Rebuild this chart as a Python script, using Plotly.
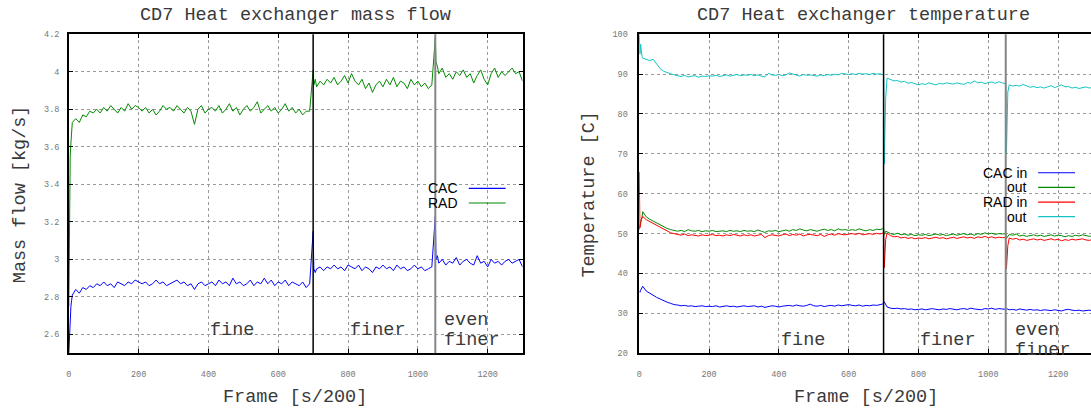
import plotly.graph_objects as go

# ---------------- data ----------------
frames_a = [0, 2, 4, 6, 8] + list(range(10, 700, 10))
frames_b = [700, 702, 706] + list(range(710, 1050, 10))
frames_c = [1050, 1052, 1056] + list(range(1060, 1301, 10))
frames = frames_a + frames_b + frames_c

section_marks = [700, 1050]
section_labels = [["fine"], ["finer"], ["even", "finer"]]
section_label_x = [400, 800, 1070]

mass_cac = [
    2.50, 2.62, 2.70, 2.75, 2.78,
    2.81, 2.84, 2.82, 2.85, 2.84, 2.86, 2.85, 2.87, 2.86, 2.88,
    2.86, 2.87, 2.85, 2.88, 2.87, 2.86, 2.88, 2.87, 2.89, 2.88,
    2.87, 2.88, 2.86, 2.87, 2.89, 2.87, 2.88, 2.86, 2.87, 2.88,
    2.89, 2.87, 2.88, 2.86, 2.87, 2.84, 2.87, 2.88, 2.86, 2.87,
    2.88, 2.86, 2.89, 2.87, 2.88, 2.86, 2.90, 2.87, 2.88, 2.86,
    2.87, 2.89, 2.86, 2.88, 2.87, 2.90, 2.87, 2.89, 2.86, 2.88,
    2.87, 2.89, 2.86, 2.88, 2.87, 2.86, 2.88, 2.85, 2.87,
    3.15, 2.95, 2.93,
    2.95, 2.96, 2.94, 2.96, 2.95, 2.97, 2.95, 2.96, 2.94, 2.97,
    2.96, 2.95, 2.97, 2.94, 2.96, 2.95, 2.93, 2.96, 2.95, 2.97,
    2.95, 2.96, 2.94, 2.97, 2.95, 2.96, 2.94, 2.95, 2.97, 2.95,
    2.96, 2.94, 2.95, 2.96,
    3.23, 3.00, 3.02,
    2.98, 3.00, 2.97, 2.99, 2.98, 3.01, 2.97, 2.99, 3.00, 2.98,
    2.97, 3.02, 2.98, 2.99, 2.96, 3.00, 2.98, 2.99, 2.97, 2.99,
    3.00, 2.98, 2.99, 3.00, 2.96,
]

mass_rad = [
    2.75, 3.35, 3.55, 3.62, 3.66,
    3.73, 3.75, 3.73, 3.77, 3.76, 3.79, 3.78, 3.80, 3.78, 3.81,
    3.79, 3.82, 3.80, 3.78, 3.81, 3.79, 3.83, 3.80, 3.82, 3.81,
    3.79, 3.81, 3.78, 3.80, 3.77, 3.79, 3.82, 3.80, 3.81, 3.79,
    3.82, 3.80, 3.78, 3.81, 3.79, 3.72, 3.80, 3.82, 3.78, 3.80,
    3.81, 3.79, 3.82, 3.78, 3.80, 3.83, 3.79, 3.81, 3.77, 3.80,
    3.82, 3.79, 3.81, 3.84, 3.78, 3.80, 3.82, 3.79, 3.81, 3.78,
    3.80, 3.83, 3.79, 3.81, 3.78, 3.80, 3.77, 3.79, 3.79,
    4.01, 3.93, 3.96,
    3.92, 3.95, 3.93, 3.96, 3.94, 3.97, 3.93, 3.95, 3.98, 3.94,
    3.99, 3.95, 3.93, 3.96, 3.91, 3.94, 3.89, 3.93, 3.95, 3.92,
    3.96, 3.93, 3.97, 3.92, 3.95, 3.94, 3.91, 3.96, 3.93, 3.95,
    3.92, 3.94, 3.91, 3.93,
    4.18, 4.05, 4.03,
    3.99, 4.02, 3.97, 3.99, 3.96, 4.00, 3.98, 4.01, 3.97, 3.99,
    3.94, 3.98, 4.01, 3.96, 3.93, 3.99, 4.02, 3.97, 4.00, 3.98,
    4.00, 4.02, 3.99, 4.00, 3.95,
]

temp_cac_in = [
    35.5, 35.3, 35.8, 36.2, 36.5,
    36.8, 35.6, 35.0, 34.6, 34.0, 33.6, 33.1, 32.8, 32.5, 32.2,
    32.1, 31.9, 32.0, 31.8, 31.9, 31.7, 31.8, 31.9, 31.7, 31.8,
    31.7, 31.9, 31.6, 31.8, 31.9, 31.7, 31.8, 31.6, 31.8, 31.9,
    31.7, 31.8, 31.9, 31.6, 31.8, 31.5, 31.7, 31.9, 31.8, 31.6,
    31.8, 31.9, 32.0, 31.8, 32.1, 31.9, 31.8, 32.0, 32.3, 31.9,
    31.8, 32.0, 31.7, 31.9, 32.0, 31.8, 32.1, 31.9, 32.0, 32.2,
    32.0, 31.9, 32.1, 31.8, 32.0, 31.9, 32.1, 32.0, 32.2,
    32.4, 32.9, 32.3,
    31.6, 31.3, 31.2, 31.3, 31.1, 31.2, 31.0, 31.1, 30.9, 31.0,
    31.1, 30.9, 31.0, 31.2, 31.0, 30.9, 31.1, 31.0, 31.2, 31.1,
    30.9, 31.1, 31.2, 31.0, 31.3, 31.1, 31.0, 30.9, 31.2, 31.1,
    31.3, 31.0, 31.2, 31.1,
    31.0, 31.2, 31.1,
    30.9, 31.0, 30.8, 31.1, 30.9, 30.8, 31.0, 30.8, 30.9, 30.7,
    30.9, 30.8, 30.7, 30.9, 30.8, 30.6, 30.9, 31.0, 30.8, 30.7,
    30.8, 30.6, 30.7, 30.8, 30.6,
]

temp_cac_out = [
    51.0, 52.5, 53.0, 53.6, 54.2,
    55.5, 54.2, 53.6, 53.1, 52.6, 52.1, 51.6, 51.3, 51.0, 50.8,
    50.6, 50.8, 50.5, 51.0, 50.7, 50.6, 50.8, 50.5, 50.7, 50.6,
    50.8, 50.5, 50.6, 50.7, 50.5, 50.8, 50.6, 50.7, 50.5, 50.8,
    50.6, 50.7, 50.5, 50.9, 50.6, 50.3, 50.7, 50.6, 50.8, 50.5,
    50.7, 50.9, 50.6, 51.0, 50.8, 51.2, 50.9, 50.7, 51.0, 50.8,
    50.6, 50.9, 51.1, 50.8, 51.0, 50.7, 51.2, 50.9, 51.0, 50.8,
    51.0, 50.8, 51.2, 50.9, 50.7, 51.0, 50.8, 51.1, 51.0,
    51.3, 49.8, 50.6,
    50.4, 50.0, 49.8, 50.1, 49.7, 49.9, 49.6, 49.8, 49.5, 49.7,
    49.6, 49.8, 49.5, 49.7, 49.9, 49.6, 49.8, 49.5, 49.7, 49.9,
    49.6, 49.8, 50.0, 49.7, 49.9, 49.6, 50.0, 49.8, 50.2, 49.9,
    50.1, 49.8, 50.0, 49.9,
    50.0, 48.8, 49.5,
    49.8, 49.6, 49.9, 49.4, 49.6, 49.3, 49.5, 49.7, 49.4, 49.6,
    49.3, 49.5, 49.7, 49.4, 49.6, 49.5, 49.2, 49.5, 49.3, 49.6,
    49.4, 49.7, 49.5, 49.3, 49.6,
]

temp_rad_in = [
    65.5, 51.5, 52.5, 53.5, 54.0,
    54.3, 53.5, 53.0, 52.5, 52.0, 51.5, 51.0, 50.6, 50.2, 50.0,
    49.8, 49.6, 49.9, 49.5, 49.7, 49.6, 49.4, 49.7, 49.5, 49.6,
    49.8, 49.5, 49.6, 49.4, 49.7, 49.5, 49.8, 49.6, 49.4, 49.7,
    49.5, 49.7, 49.4, 49.6, 49.8, 49.0, 49.5, 49.7, 49.6, 49.4,
    49.7, 49.9, 49.5, 49.8, 49.6, 49.9, 49.4, 49.7, 49.8, 49.6,
    49.5, 49.8, 49.3, 49.7, 49.9, 49.6, 50.0, 49.8, 49.7, 49.9,
    50.0, 49.8, 50.1, 49.7, 49.9, 50.0, 49.8, 50.1, 49.9,
    50.2, 41.5, 48.5,
    50.1, 49.5, 49.2, 49.3, 48.9, 49.1, 48.8, 49.0, 48.7, 48.9,
    48.8, 49.0, 48.7, 48.9, 49.1, 48.8, 49.0, 48.7, 48.9, 49.1,
    48.8, 49.0, 49.2, 48.9, 49.1, 48.8, 49.2, 49.0, 49.3, 49.0,
    49.2, 48.9, 49.1, 49.0,
    49.0, 41.2, 47.0,
    48.9, 48.6, 48.8, 48.4, 48.6, 48.3, 48.5, 48.7, 48.4, 48.6,
    48.3, 48.5, 48.7, 48.4, 48.6, 48.2, 48.5, 48.3, 48.6, 48.4,
    48.5, 48.7, 48.4, 48.3, 48.6,
]

temp_rad_out = [
    100.0, 95.0, 97.5, 94.8, 94.4,
    94.0, 93.7, 93.4, 93.7, 92.6, 91.4, 90.7, 90.3, 90.1, 89.8,
    89.6, 89.4, 89.7, 89.3, 89.5, 89.6, 89.2, 89.5, 89.4, 89.6,
    89.5, 89.7, 89.4, 89.6, 89.8, 89.5, 89.7, 89.9, 89.6, 89.8,
    89.7, 89.9, 89.6, 89.8, 89.5, 89.3, 90.2, 89.8, 89.7, 89.9,
    89.6, 89.8, 90.3, 90.0, 89.8, 89.5, 89.9, 89.7, 89.8, 89.6,
    89.5, 89.8, 89.6, 89.9, 89.7, 90.0, 89.8, 90.2, 90.0, 89.9,
    90.1, 89.9, 90.2, 90.0, 90.1, 89.9, 90.2, 90.0, 90.1,
    89.8, 67.5, 84.0,
    89.0, 88.6, 88.3, 88.4, 88.0, 88.2, 87.7, 87.9, 87.5, 87.3,
    87.6, 87.4, 87.8, 87.5, 87.3, 87.7, 87.5, 87.8, 87.6, 87.5,
    87.8, 87.6, 87.4, 87.9, 87.7, 88.3, 87.8, 88.0, 87.6, 87.9,
    88.0, 87.7, 88.1, 87.8,
    87.6, 70.0, 85.5,
    87.3, 87.0, 87.2, 87.0, 87.4, 87.1, 86.7, 86.9, 86.6, 86.8,
    86.5, 86.8, 87.1, 86.6, 86.9, 87.3, 86.8, 86.9, 86.5, 86.7,
    86.4, 86.6, 86.8, 86.5, 86.7,
]

# ---------------- styling ----------------
W, H = 1091, 409
MONO = "Liberation Mono, Courier New, monospace"
SANS = "Liberation Sans, Arial, sans-serif"
BLUE, GREEN, RED, CYAN = "#0000ff", "#008a00", "#ff0000", "#14c4c4"
TXT = "#3a3a3a"


def px(x):
    return x / W


def py(y):
    return 1 - y / H


fig = go.Figure()


def add(xs, ys, color, xa, ya):
    n = min(len(xs), len(ys))
    fig.add_trace(go.Scatter(x=xs[:n], y=ys[:n], mode="lines",
                             line=dict(color=color, width=1),
                             xaxis=xa, yaxis=ya, hoverinfo="skip"))


add(frames, mass_cac, BLUE, "x", "y")
add(frames, mass_rad, GREEN, "x", "y")
add(frames, temp_cac_in, BLUE, "x2", "y2")
add(frames, temp_cac_out, GREEN, "x2", "y2")
add(frames, temp_rad_in, RED, "x2", "y2")
add(frames, temp_rad_out, CYAN, "x2", "y2")

ydom = [(H - 358) / H, (H - 31) / H]
tickfont = dict(family=MONO, size=8.5, color="#777777")
common = dict(showgrid=True, griddash="dot", gridcolor="#9a9a9a", gridwidth=1,
              showline=True, linecolor="black", linewidth=1.5,
              ticks="inside", ticklen=4, tickcolor="black", tickwidth=1,
              tickfont=tickfont, zeroline=False)

xt = [0, 200, 400, 600, 800, 1000, 1200]
fig.update_layout(
    width=W, height=H, margin=dict(l=0, r=0, t=0, b=0),
    plot_bgcolor="white", paper_bgcolor="white", showlegend=False,
    xaxis=dict(domain=[px(66), px(521)], range=[0, 1300], anchor="y",
               tickvals=xt, mirror="ticks", ticklabelstandoff=12, **common),
    yaxis=dict(domain=ydom, range=[2.5, 4.2], anchor="x",
               tickvals=[2.6, 2.8, 3.0, 3.2, 3.4, 3.6, 3.8, 4.0, 4.2],
               ticktext=["2.6", "2.8", "3", "3.2", "3.4", "3.6", "3.8", "4", "4.2"],
               mirror="ticks", ticklabelstandoff=6, **common),
    xaxis2=dict(domain=[px(638), 1.0], range=[0, 1300 * 453 / 455], anchor="y2",
                tickvals=xt, mirror="ticks", ticklabelstandoff=12, **common),
    yaxis2=dict(domain=ydom, range=[20, 100], anchor="x2",
                tickvals=[20, 30, 40, 50, 60, 70, 80, 90, 100],
                mirror=False, ticklabelstandoff=8, **common),
)

shapes = []
for xa, ya in (("x", "y"), ("x2", "y2")):
    shapes.append(dict(type="line", xref=xa, yref=ya + " domain", x0=section_marks[0],
                       x1=section_marks[0], y0=0, y1=1, line=dict(color="black", width=1.5)))
    shapes.append(dict(type="line", xref=xa, yref=ya + " domain", x0=section_marks[1],
                       x1=section_marks[1], y0=0, y1=1, line=dict(color="#858585", width=2)))

ann = []
# titles
ann.append(dict(text="CD7 Heat exchanger mass flow", x=px(293), y=py(12)))
ann.append(dict(text="CD7 Heat exchanger temperature", x=px(863), y=py(12)))
ann.append(dict(text="Frame [s/200]", x=px(293), y=py(403)))
ann.append(dict(text="Frame [s/200]", x=px(865), y=py(403)))
ann.append(dict(text="Mass flow [kg/s]", x=px(17), y=py(195), textangle=-90))
ann.append(dict(text="Temperature [C]", x=px(588), y=py(195), textangle=-90))
for a in ann:
    a.update(xref="paper", yref="paper", showarrow=False, xanchor="center", yanchor="middle",
             font=dict(family=MONO, size=18.5, color=TXT))

# section labels (multi-line labels stacked with 20 px line pitch)
for lx, lines in zip(section_label_x, section_labels):
    nl = len(lines)
    for i, lt in enumerate(lines):
        shift = ((nl - 1) / 2 - i) * 20
        for xa, ya, yv in (("x", "y", 2.62), ("x2", "y2", 23.3)):
            ann.append(dict(text=lt, x=lx, y=yv, xref=xa, yref=ya, showarrow=False,
                            xanchor="left", yanchor="middle", yshift=shift,
                            font=dict(family=MONO, size=18.5, color=TXT)))

# legends
legL = [("CAC", BLUE, 189), ("RAD", GREEN, 204)]
for name, col, yy in legL:
    ann.append(dict(text=name, x=px(458), y=py(yy), xref="paper", yref="paper",
                    showarrow=False, xanchor="right", yanchor="middle",
                    font=dict(family=SANS, size=14, color="black")))
    shapes.append(dict(type="line", xref="paper", yref="paper", x0=px(467), x1=px(504),
                       y0=py(yy), y1=py(yy), line=dict(color=col, width=1.2)))
legR = [("CAC in", BLUE, 173), ("out", GREEN, 188), ("RAD in", RED, 203), ("out", CYAN, 218)]
for name, col, yy in legR:
    ann.append(dict(text=name, x=px(1029), y=py(yy), xref="paper", yref="paper",
                    showarrow=False, xanchor="right", yanchor="middle",
                    font=dict(family=SANS, size=14, color="black")))
    shapes.append(dict(type="line", xref="paper", yref="paper", x0=px(1038), x1=px(1075),
                       y0=py(yy), y1=py(yy), line=dict(color=col, width=1.2)))

fig.update_layout(shapes=shapes, annotations=ann)
fig.write_html("out.html")
